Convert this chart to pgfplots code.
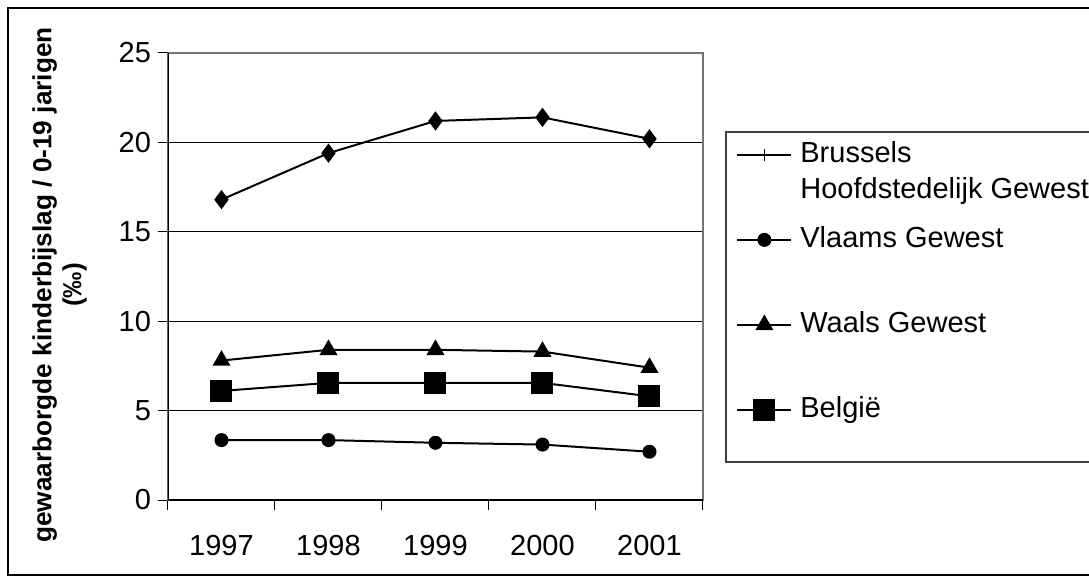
\documentclass[border=0pt]{standalone}
\usepackage{fontspec}
\setmainfont{Liberation Sans}
\usepackage{pgfplots}
\pgfplotsset{compat=1.18}
\newcommand{\tickfont}{\fontsize{14.5pt}{17.4pt}\selectfont}
\begin{document}
\begin{tikzpicture}
\useasboundingbox (0,0) rectangle (544.5pt,-291.5pt);
\begin{scope}
\clip (0,0) rectangle (544.5pt,-291.5pt);
\draw[black, line width=0.6pt] (4pt,-4pt) rectangle (580pt,-287.5pt);
\draw[black!75, line width=0.6pt] (363pt,-66pt) rectangle (580pt,-231pt);
\end{scope}
\begin{axis}[
  at={(84pt,-250pt)}, anchor=south west,
  scale only axis, width=267.5pt, height=223.5pt,
  xmin=-0.5, xmax=4.5, ymin=0, ymax=25,
  xtick={-0.5,0.5,1.5,2.5,3.5,4.5}, xticklabels={,,,,,},
  extra x ticks={0,1,2,3,4},
  extra x tick labels={1997,1998,1999,2000,2001},
  extra x tick style={major tick length=0pt, grid=none,
     xticklabel style={yshift=-14pt}},
  ytick={0,5,10,15,20,25},
  xtick pos=left, ytick pos=left,
  tick align=outside, major tick length=5pt,
  tick style={black, line width=0.5pt},
  ymajorgrids, grid style={black, line width=0.5pt},
  axis line style={black!55, line width=0.6pt},
  /pgf/number format/assume math mode=true,
  ticklabel style={font=\tickfont},
  ylabel={\begin{tabular}{@{}c@{}}gewaarborgde kinderbijslag / 0-19 jarigen\\[0pt](‰)\end{tabular}},
  ylabel style={font=\bfseries\fontsize{13.1pt}{15pt}\selectfont,
     at={(axis description cs:-0.201,0.481)}, anchor=center},
  legend image code/.code={\draw[mark repeat=2,mark phase=2,#1] plot coordinates {(0pt,0pt) (13.5pt,0pt) (27pt,0pt)};},
  legend cell align=left,
  legend style={draw=none, fill=none, at={(axis description cs:1.0617,0.8054)}, anchor=north west,
     font=\tickfont, inner sep=0pt, row sep=28pt, column sep=4pt,
     nodes={inner sep=0pt, text height=11pt, text depth=3.5pt}},
]
\addplot[black, line width=1pt, mark=diamond*, mark size=4pt,
  legend image code/.code={\draw[black,line width=1pt] (0pt,0pt) -- (27pt,0pt); \draw[black,line width=0.8pt] (13.5pt,-3pt) -- (13.5pt,3pt);}]
  coordinates {(0,16.8) (1,19.4) (2,21.2) (3,21.4) (4,20.2)};
\addlegendentry{\begin{tabular}[t]{@{}l@{}}Brussels\\[0.6pt]Hoofdstedelijk Gewest\end{tabular}}
\addplot[black, line width=1pt, mark=*, mark size=3pt]
  coordinates {(0,3.35) (1,3.35) (2,3.2) (3,3.1) (4,2.7)};
\addlegendentry{Vlaams Gewest}
\addplot[black, line width=1pt, mark=triangle*, mark size=4.2pt]
  coordinates {(0,7.8) (1,8.4) (2,8.4) (3,8.3) (4,7.4)};
\addlegendentry{Waals Gewest}
\addplot[black, line width=1pt, mark=square*, mark size=5pt]
  coordinates {(0,6.1) (1,6.55) (2,6.55) (3,6.55) (4,5.8)};
\addlegendentry{België}
\draw[black, line width=0.7pt] (rel axis cs:0,1) -- (rel axis cs:0,0) -- (rel axis cs:1,0);
\end{axis}
\end{tikzpicture}
\end{document}
